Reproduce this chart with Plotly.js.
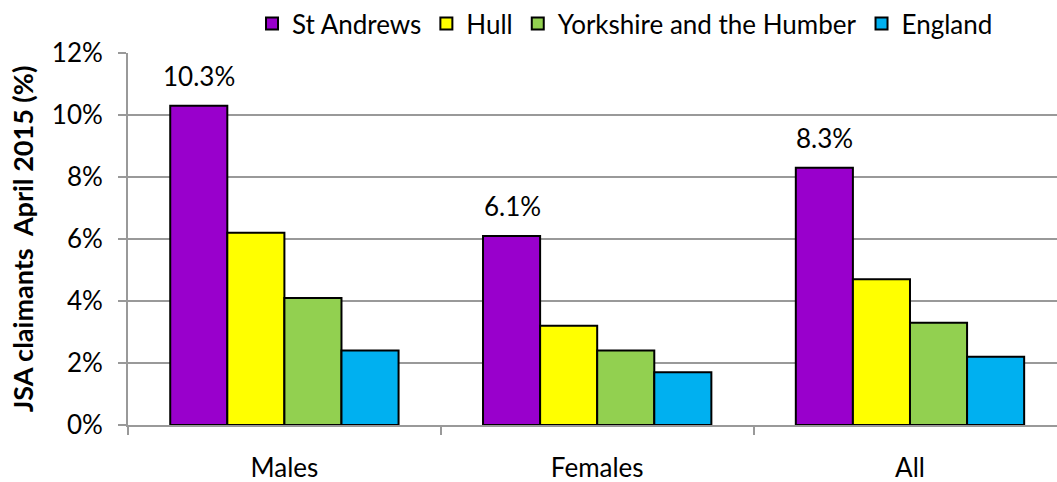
<!DOCTYPE html>
<html>
<head>
<meta charset="utf-8">
<script src="https://cdn.plot.ly/plotly-3.0.1.min.js"></script>
<style>html,body{margin:0;padding:0;overflow:hidden;background:#fff}</style>
</head>
<body>
<div id="chart" style="width:1057px;height:482px"></div>
<script>
const categories = ["Males", "Females", "All"];
const seriesNames = ["St Andrews", "Hull", "Yorkshire and the Humber", "England"];
const stAndrews = [10.3, 6.1, 8.3];
const hull = [6.2, 3.2, 4.7];
const yorkshire = [4.1, 2.4, 3.3];
const england = [2.4, 1.7, 2.2];
const yTickVals = [0, 2, 4, 6, 8, 10, 12];
const yTickText = ["0%", "2%", "4%", "6%", "8%", "10%", "12%"];
const yTitle = "JSA claimants  April 2015 (%)";

const colors = ["#9900CC", "#FFFF00", "#92D050", "#00B0F0"];
const values = [stAndrews, hull, yorkshire, england];
const FONT = "Lato, 'Open Sans', sans-serif";
const FS = 26;

const traces = values.map((v, i) => ({
  type: "bar",
  name: seriesNames[i],
  x: categories,
  y: v,
  marker: {color: colors[i], line: {color: "#000", width: 2}},
  hoverinfo: "skip"
}));

const annotations = categories.map((c, i) => ({
  x: c, y: stAndrews[i], xref: "x", yref: "y",
  text: stAndrews[i].toFixed(1) + "%",
  showarrow: false, yanchor: "bottom", xanchor: "center",
  xshift: -85, yshift: 12,
  font: {family: FONT, size: FS, color: "#000"}
}));

const layout = {
  width: 1057, height: 482,
  margin: {l: 128, r: 0, t: 50, b: 57},
  paper_bgcolor: "#fff", plot_bgcolor: "#fff",
  barmode: "group", bargap: 0.27, bargroupgap: 0,
  font: {family: FONT, size: FS, color: "#000"},
  showlegend: true,
  legend: {
    orientation: "h", x: 0.535, xanchor: "center", y: 1.08, yanchor: "middle",
    font: {family: FONT, size: FS, color: "#000"},
    itemwidth: 30, traceorder: "normal", bgcolor: "rgba(0,0,0,0)"
  },
  xaxis: {
    type: "category", range: [-0.5, 2.47],
    tickson: "boundaries", ticks: "outside", ticklen: 8, tickwidth: 2, tickcolor: "#999",
    showline: true, linecolor: "#999", linewidth: 2,
    showgrid: false, zeroline: false,
    ticklabelstandoff: 19,
    tickfont: {family: FONT, size: FS, color: "#000"},
    fixedrange: true
  },
  yaxis: {
    range: [0, 12], tickmode: "array", tickvals: yTickVals, ticktext: yTickText,
    ticks: "outside", ticklen: 8, tickwidth: 2, tickcolor: "#999",
    showline: true, linecolor: "#999", linewidth: 2,
    showgrid: true, gridcolor: "#999", gridwidth: 2, zeroline: false,
    ticklabelstandoff: 10,
    tickfont: {family: FONT, size: FS, color: "#000"},
    title: {text: yTitle, font: {family: FONT, size: 27, color: "#000", weight: "bold"}, standoff: 10},
    automargin: false,
    fixedrange: true
  },
  annotations: annotations
};

Plotly.newPlot("chart", traces, layout, {displayModeBar: false, staticPlot: true});
</script>
</body>
</html>
